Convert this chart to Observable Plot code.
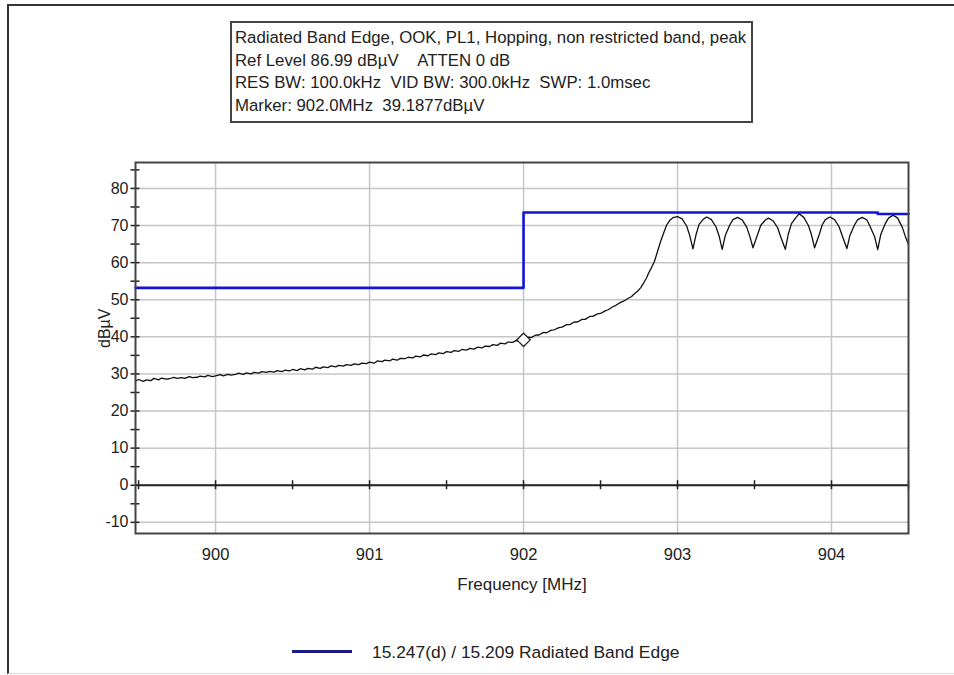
<!DOCTYPE html>
<html>
<head>
<meta charset="utf-8">
<script src="https://cdn.jsdelivr.net/npm/d3@7"></script>
<script src="https://cdn.jsdelivr.net/npm/@observablehq/plot@0.6"></script>
<style>
  html, body { margin: 0; padding: 0; background: #fff; }
  #wrap { position: relative; width: 954px; height: 675px; overflow: hidden; font-family: "Liberation Sans", Arial, sans-serif; }
  #outer { position: absolute; left: 7px; top: 4px; width: 970px; height: 667px; border-left: 2px solid #333; border-top: 2px solid #333; border-bottom: 1px solid #ddd; }
  #chart { position: absolute; left: 0; top: 0; }
  #hdr { position: absolute; left: 230px; top: 21px; width: 516px; height: 94px; border: 2px solid #444; background: #fff; overflow: hidden; white-space: nowrap; font-size: 16.8px; line-height: 22.5px; color: #222; padding-left: 3px; padding-top: 4px; box-sizing: content-box; }
  #leg-line { position: absolute; left: 292px; top: 650px; width: 60px; height: 3px; background: #1a1a8c; }
  #leg-text { position: absolute; left: 372px; top: 641px; font-size: 17.4px; line-height: 22px; color: #222; white-space: nowrap; font-family: "Liberation Sans", Arial, sans-serif; }
</style>
</head>
<body>
<div id="wrap">
  <div id="outer"></div>
  <div id="chart"></div>
  <div id="hdr"></div>
  <div id="leg-line"></div>
  <div id="leg-text"></div>
</div>
<script>
// ---- Header text ----
const headerLines = [
  "Radiated Band Edge, OOK, PL1, Hopping, non restricted band, peak",
  "Ref Level 86.99 dB\u00b5V\u00a0\u00a0\u00a0\u00a0ATTEN 0 dB",
  "RES BW: 100.0kHz\u00a0\u00a0VID BW: 300.0kHz\u00a0\u00a0SWP: 1.0msec",
  "Marker: 902.0MHz\u00a0\u00a039.1877dB\u00b5V"
];
const legendLabel = "15.247(d) / 15.209 Radiated Band Edge";
const xLabel = "Frequency [MHz]";
const yLabel = "dB\u00b5V";

// ---- Axes ----
const xDomain = [899.48, 904.5];
const yDomain = [-13.01, 86.99];
const xTickLabels = [900, 901, 902, 903, 904];
const xMinorTicks = [899.5, 900, 900.5, 901, 901.5, 902, 902.5, 903, 903.5, 904, 904.5];
const yTickLabels = [-10, 0, 10, 20, 30, 40, 50, 60, 70, 80];
const yMinorTicks = [-10, -5, 0, 5, 10, 15, 20, 25, 30, 35, 40, 45, 50, 55, 60, 65, 70, 75, 80, 85];

// ---- Measured trace (dBuV) ----
const traceFreq = [
  899.48, 899.50, 899.53, 899.55, 899.58, 899.60, 899.63, 899.65, 899.68, 899.70, 899.73, 899.75, 899.78, 899.80, 899.83, 899.85, 899.88, 899.90, 899.93, 899.95, 899.98,
  900.00, 900.03, 900.05, 900.08, 900.10, 900.13, 900.15, 900.18, 900.20, 900.23, 900.25, 900.28, 900.30, 900.33, 900.35, 900.38, 900.40, 900.43, 900.45, 900.48,
  900.50, 900.53, 900.55, 900.58, 900.60, 900.63, 900.65, 900.68, 900.70, 900.73, 900.75, 900.78, 900.80, 900.83, 900.85, 900.88, 900.90, 900.93, 900.95, 900.98,
  901.00, 901.03, 901.05, 901.08, 901.10, 901.13, 901.15, 901.18, 901.20, 901.23, 901.25, 901.28, 901.30, 901.33, 901.35, 901.38, 901.40, 901.43, 901.45, 901.48,
  901.50, 901.53, 901.55, 901.58, 901.60, 901.63, 901.65, 901.68, 901.70, 901.73, 901.75, 901.78, 901.80, 901.83, 901.85, 901.88, 901.90, 901.93, 901.95, 901.98,
  902.00, 902.03, 902.05, 902.08, 902.10, 902.13, 902.15, 902.18, 902.20, 902.23, 902.25, 902.28, 902.30, 902.33, 902.35, 902.38, 902.40, 902.43, 902.45, 902.48,
  902.50, 902.53, 902.55, 902.58, 902.60, 902.63, 902.65, 902.68, 902.70, 902.72, 902.74, 902.76, 902.78, 902.80, 902.81, 902.83, 902.85, 902.87, 902.89, 902.91, 902.93, 902.95, 902.97,
  903.00, 903.03, 903.06, 903.08, 903.10, 903.12, 903.14, 903.17, 903.19, 903.22, 903.25, 903.27, 903.29, 903.31, 903.34, 903.36, 903.39,
  903.42, 903.45, 903.47, 903.49, 903.52, 903.54, 903.57, 903.59, 903.62, 903.65, 903.67, 903.70, 903.72, 903.74, 903.77, 903.79,
  903.82, 903.85, 903.87, 903.89, 903.92, 903.94, 903.96, 903.99, 904.02, 904.05, 904.07, 904.10, 904.12, 904.15, 904.17, 904.20,
  904.23, 904.25, 904.28, 904.30, 904.32, 904.35, 904.37, 904.40, 904.43, 904.46, 904.48, 904.50
];
const traceLevel = [
  28.1, 28.5, 28.0, 28.4, 28.2, 28.8, 28.4, 28.9, 28.6, 28.7, 29.1, 28.8, 29.0, 28.8, 29.3, 29.0, 29.1, 29.4, 29.2, 29.6, 29.3,
  29.5, 29.8, 29.5, 29.9, 29.7, 29.9, 30.2, 29.9, 30.3, 30.0, 30.4, 30.2, 30.6, 30.4, 30.7, 30.5, 30.9, 30.6, 31.0, 30.8,
  31.2, 30.9, 31.4, 31.1, 31.5, 31.3, 31.8, 31.5, 31.9, 31.7, 32.2, 31.9, 32.3, 32.1, 32.5, 32.3, 32.7, 32.5, 32.9, 32.8,
  33.2, 32.9, 33.5, 33.3, 33.7, 33.5, 34.0, 33.7, 34.2, 34.1, 34.5, 34.3, 34.8, 34.6, 35.1, 34.9, 35.4, 35.2, 35.7, 35.5,
  36.0, 35.8, 36.3, 36.1, 36.6, 36.4, 36.9, 36.7, 37.2, 37.0, 37.5, 37.4, 37.9, 37.7, 38.3, 38.1, 38.6, 38.5, 39.0, 38.9,
  39.2, 39.9, 39.8, 40.5, 40.5, 41.2, 41.1, 41.8, 41.9, 42.5, 42.6, 43.3, 43.3, 44.0, 44.0, 44.7, 44.7, 45.5, 45.5, 46.2,
  46.3, 47.0, 47.3, 48.1, 48.5, 49.3, 49.6, 50.4, 50.8, 51.6, 52.3, 53.2, 54.5, 56.0, 57.0, 58.6, 60.3, 63.0, 65.7, 68.0, 70.2, 71.4, 72.1,
  72.4, 71.8, 69.8, 67.2, 63.7, 67.5, 70.3, 71.8, 72.3, 71.6, 69.6, 67.2, 63.6, 67.3, 70.2, 71.6, 72.2,
  71.5, 69.5, 67.0, 64.0, 67.6, 70.0, 71.5, 72.0, 71.3, 69.4, 67.0, 63.6, 67.8, 70.5, 72.2, 73.2,
  72.2, 70.0, 67.5, 64.0, 67.5, 70.2, 71.6, 72.3, 71.6, 69.6, 67.2, 63.8, 67.4, 70.2, 71.6, 72.2,
  71.5, 69.8, 67.0, 63.5, 67.6, 70.6, 72.0, 72.8, 72.0, 69.5, 67.0, 64.9
];

// ---- Limit line ----
const limitFreq = [899.48, 902.0, 902.0, 904.3, 904.3, 904.5];
const limitLevel = [53.2, 53.2, 73.5, 73.5, 73.1, 73.1];

// ---- Marker ----
const markerFreq = [902.0];
const markerLevel = [39.19];

const trace = traceFreq.map((f, i) => ({f, v: traceLevel[i]}));
const limit = limitFreq.map((f, i) => ({f, v: limitLevel[i]}));
const marker = markerFreq.map((f, i) => ({f, v: markerLevel[i]}));

const tickFont = '"Liberation Sans", Arial, sans-serif';
const xPxPerUnit = (908 - 135) / (xDomain[1] - xDomain[0]);
const yPxPerUnit = (533 - 162) / (yDomain[1] - yDomain[0]);
const tx = 4.5 / xPxPerUnit;
const ty = 4.5 / yPxPerUnit;

const chart = Plot.plot({
  width: 954,
  height: 675,
  marginLeft: 135,
  marginRight: 46,
  marginTop: 162,
  marginBottom: 142,
  style: { fontFamily: tickFont, fontSize: "16px", color: "#222", background: "transparent", overflow: "visible" },
  x: { domain: xDomain, label: null },
  y: { domain: yDomain, label: null },
  marks: [
    Plot.gridY(yTickLabels, { stroke: "#c6c6c6", strokeOpacity: 1, strokeWidth: 1.5 }),
    Plot.gridX(xTickLabels, { stroke: "#c6c6c6", strokeOpacity: 1, strokeWidth: 1.5 }),
    Plot.ruleY([0], { stroke: "#222", strokeWidth: 2 }),
    Plot.ruleX(xMinorTicks, { x: d => d, y1: -ty, y2: ty, stroke: "#222", strokeWidth: 1.5 }),
    Plot.ruleY(yMinorTicks, { y: d => d, x1: xDomain[0] - tx, x2: xDomain[0] + tx, stroke: "#222", strokeWidth: 1.5, clip: false }),
    Plot.axisY(yTickLabels, { tickSize: 0, tickPadding: 7, label: null, fontSize: 16, tickFormat: d => String(d) }),
    Plot.axisX(xTickLabels, { tickSize: 0, tickPadding: 15, label: null, fontSize: 16.5, tickFormat: d => String(d) }),
    Plot.text([xLabel], { frameAnchor: "bottom", dy: 56, fontSize: 17 }),
    Plot.text([yLabel], { frameAnchor: "left", dx: -31, rotate: -90, fontSize: 16 }),
    Plot.line(trace, { x: "f", y: "v", stroke: "#111", strokeWidth: 1.3 }),
    Plot.line(limit, { x: "f", y: "v", stroke: "#1414d4", strokeWidth: 2.6 }),
    Plot.dot(marker, { x: "f", y: "v", symbol: "diamond2", r: 6, stroke: "#222", fill: "white", strokeWidth: 1.3 }),
    Plot.frame({ stroke: "#444", strokeWidth: 2 })
  ]
});
document.getElementById("chart").appendChild(chart);

const hdr = document.getElementById("hdr");
headerLines.forEach(t => { const d = document.createElement("div"); d.textContent = t; hdr.appendChild(d); });
document.getElementById("leg-text").textContent = legendLabel;
</script>
</body>
</html>
